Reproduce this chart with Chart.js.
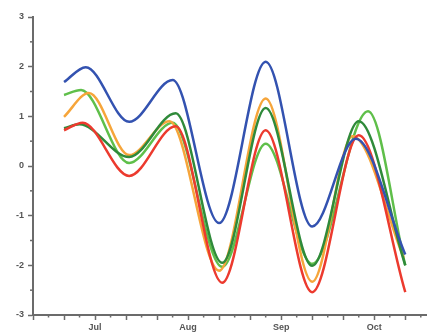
<!DOCTYPE html>
<html>
<head>
<meta charset="utf-8">
<script src="https://cdn.jsdelivr.net/npm/chart.js@4/dist/chart.umd.min.js"></script>
<style>
  html, body { margin: 0; padding: 0; background: #fff; }
  #wrap { width: 427px; height: 335px; }
</style>
</head>
<body>
<div id="wrap"><canvas id="chart" width="427" height="335"></canvas></div>
<script>
// month labels sit on these x positions
const monthPos = [2, 5, 8, 11];
const monthLabels = ['Jul', 'Aug', 'Sep', 'Oct'];

// series (x in tick units, y in axis units)
const blueX = [1, 1.7, 3.1, 4.5, 6.0, 7.5, 9.0, 10.4, 12];
const blueY = [1.69, 1.99, 0.89, 1.73, -1.15, 2.1, -1.22, 0.55, -1.78];
const orangeX = [1, 1.8, 3.1, 4.4, 6.0, 7.5, 9.0, 10.3, 11.95];
const orangeY = [0.99, 1.47, 0.22, 0.9, -2.11, 1.36, -2.33, 0.6, -1.85];
const darkGreenX = [1, 1.5, 3.1, 4.6, 6.1, 7.5, 9.0, 10.5, 12];
const darkGreenY = [0.76, 0.84, 0.18, 1.06, -1.95, 1.17, -2.01, 0.9, -2.0];
const lightGreenX = [1, 1.55, 3.1, 4.5, 6.1, 7.5, 9.0, 10.8, 12];
const lightGreenY = [1.43, 1.53, 0.06, 0.87, -2.03, 0.45, -1.97, 1.1, -2.0];
const redX = [1, 1.6, 3.1, 4.6, 6.1, 7.5, 9.0, 10.5, 12];
const redY = [0.72, 0.87, -0.2, 0.8, -2.35, 0.72, -2.54, 0.62, -2.54];

const pts = (xs, ys) => xs.map((x, i) => ({ x: x, y: ys[i] }));
const axisColor = '#6b6b6b';

const line = (data, color, order) => ({
  data: data,
  borderColor: color,
  borderWidth: 2.5,
  pointRadius: 0,
  fill: false,
  cubicInterpolationMode: 'monotone',
  order: order
});

// small minor tick marks between the labelled ones
const minorTicks = {
  id: 'minorTicks',
  afterDraw(chart) {
    const ctx = chart.ctx;
    const xs = chart.scales.x, ys = chart.scales.y;
    ctx.save();
    ctx.strokeStyle = axisColor;
    ctx.lineWidth = 1.5;
    for (let v = -2.5; v < 3; v += 1) {
      const py = ys.getPixelForValue(v);
      ctx.beginPath();
      ctx.moveTo(xs.left - 3, py);
      ctx.lineTo(xs.left, py);
      ctx.stroke();
    }
    for (let v = 0.5; v < 12.7; v += 1) {
      const px = xs.getPixelForValue(v);
      ctx.beginPath();
      ctx.moveTo(px, ys.bottom);
      ctx.lineTo(px, ys.bottom + 2.5);
      ctx.stroke();
    }
    ctx.restore();
  }
};

new Chart(document.getElementById('chart'), {
  type: 'line',
  data: {
    datasets: [
      line(pts(lightGreenX, lightGreenY), '#5fbf4a', 5),
      line(pts(orangeX, orangeY), '#f6a53a', 4),
      line(pts(darkGreenX, darkGreenY), '#2f8a3a', 3),
      line(pts(redX, redY), '#ec3a2e', 2),
      line(pts(blueX, blueY), '#3352b0', 1)
    ]
  },
  options: {
    responsive: false,
    animation: false,
    layout: { padding: { top: 17, right: 0, left: 0, bottom: 0 } },
    plugins: { legend: { display: false }, tooltip: { enabled: false } },
    scales: {
      x: {
        type: 'linear',
        min: 0,
        max: 12.7,
        afterFit: (s) => { s.height = 20; },
        border: { color: axisColor, width: 2 },
        grid: { drawOnChartArea: false, tickLength: 5, tickColor: axisColor, tickWidth: 1.5 },
        ticks: {
          stepSize: 1,
          autoSkip: false,
          maxRotation: 0,
          includeBounds: false,
          padding: 2,
          color: '#555',
          font: { family: 'Liberation Sans', size: 9, weight: 'bold' },
          callback: (v) => {
            const i = monthPos.indexOf(v);
            return i >= 0 ? monthLabels[i] : '';
          }
        }
      },
      y: {
        min: -3,
        max: 3,
        afterFit: (s) => { s.width = 33; },
        border: { color: axisColor, width: 2 },
        grid: { drawOnChartArea: false, tickLength: 5, tickColor: axisColor, tickWidth: 1.5 },
        ticks: {
          stepSize: 1,
          padding: 4,
          color: '#555',
          font: { family: 'Liberation Sans', size: 9, weight: 'bold' },
          callback: (v) => String(v)
        }
      }
    }
  },
  plugins: [minorTicks]
});
</script>
</body>
</html>
